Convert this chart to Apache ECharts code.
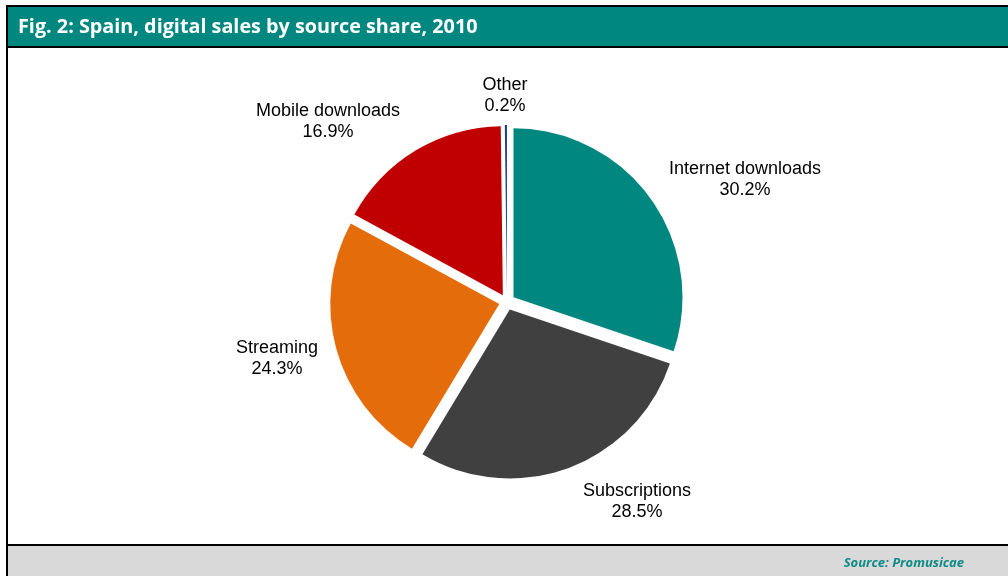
<!DOCTYPE html>
<html>
<head>
<meta charset="utf-8">
<script src="https://cdn.jsdelivr.net/npm/echarts@6/dist/echarts.min.js"></script>
<style>
  html, body { margin: 0; padding: 0; background: #ffffff; }
  #chart { width: 1008px; height: 576px; }
</style>
</head>
<body>
<div id="chart"></div>
<script>
// Spain, digital sales by source share, 2010 (per cent)
var categories = ['Internet downloads', 'Subscriptions', 'Streaming', 'Mobile downloads', 'Other'];
var shares = [30.2, 28.5, 24.3, 16.9, 0.2];
var titleText = 'Fig. 2: Spain, digital sales by source share, 2010';
var sourceText = 'Source: Promusicae';

var sliceColors = ['#00877F', '#404040', '#E46C0A', '#C00000', '#1F3C88'];

// pie geometry
var CX = 507, CY = 302, R = 169;
// label block centres, as offsets from the pie centre
var labelOffsets = [
  [238, -122],   // Internet downloads
  [130, 200],    // Subscriptions
  [-230, 57],    // Streaming
  [-179, -180],  // Mobile downloads
  [-2, -206]     // Other
];

var chart = echarts.init(document.getElementById('chart'), null, { renderer: 'canvas' });

var frame = [
  { type: 'rect', z: -10, shape: { x: 6, y: 5, width: 1010, height: 43 }, style: { fill: '#000000' } },
  { type: 'rect', z: -9, shape: { x: 8, y: 7, width: 1010, height: 39 }, style: { fill: '#00877F' } },
  { type: 'rect', z: -10, shape: { x: 6, y: 48, width: 2, height: 500 }, style: { fill: '#000000' } },
  { type: 'rect', z: -10, shape: { x: 6, y: 544, width: 1010, height: 2 }, style: { fill: '#000000' } },
  { type: 'rect', z: -10, shape: { x: 8, y: 546, width: 1010, height: 30 }, style: { fill: '#D9D9D9' } },
  { type: 'rect', z: -10, shape: { x: 6, y: 546, width: 2, height: 30 }, style: { fill: '#000000' } }
];

// category + share labels around the pie
var sliceLabels = categories.map(function (name, i) {
  return {
    type: 'text',
    z: 10,
    x: CX + labelOffsets[i][0],
    y: CY + labelOffsets[i][1],
    style: {
      text: name + '\n' + shares[i].toFixed(1) + '%',
      fill: '#000000',
      font: '18px "Liberation Sans", Arial, sans-serif',
      lineHeight: 21,
      align: 'center',
      verticalAlign: 'middle'
    }
  };
});

var option = {
  backgroundColor: '#ffffff',
  animation: false,
  title: [{
    text: titleText,
    left: 13,
    top: 12,
    textStyle: { color: '#ffffff', fontFamily: 'Open Sans', fontWeight: 'bold', fontSize: 19.8 }
  }, {
    text: sourceText,
    right: 39,
    top: 552,
    textStyle: { color: '#0E8B85', fontFamily: 'Open Sans', fontWeight: 'bold', fontStyle: 'italic', fontSize: 13 }
  }],
  graphic: frame.concat(sliceLabels),
  series: [{
    type: 'pie',
    center: [CX, CY],
    radius: R,
    startAngle: 90,
    clockwise: true,
    selectedMode: 'multiple',
    selectedOffset: 8,
    emphasis: { disabled: true },
    data: categories.map(function (name, i) {
      return { name: name, value: shares[i], selected: true, itemStyle: { color: sliceColors[i] } };
    }),
    label: { show: false },
    labelLine: { show: false }
  }]
};

chart.setOption(option);
</script>
</body>
</html>
